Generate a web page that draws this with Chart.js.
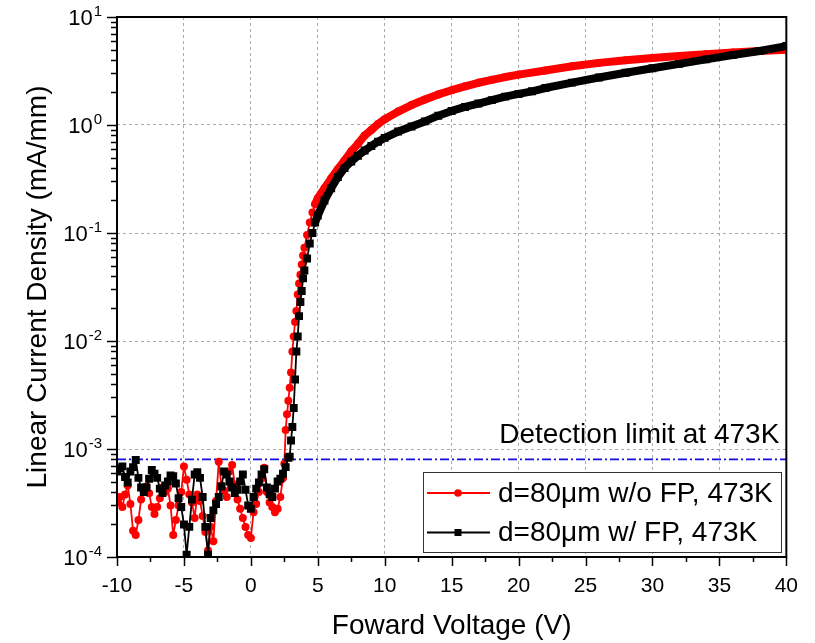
<!DOCTYPE html>
<html><head><meta charset="utf-8">
<script src="https://cdn.jsdelivr.net/npm/chart.js@4.4.1/dist/chart.umd.min.js"></script>
<style>html,body{margin:0;padding:0;background:#fff}#wrap{width:815px;height:643px}</style>
</head><body><div id="wrap"><canvas id="c" width="815" height="643"></canvas></div>
<script>
// ---------------- data ----------------
const xRange = [-10, 40];
const yRange = [1e-4, 10];
const xTickStep = 5;
const yDecadeExponents = [1, 0, -1, -2, -3, -4];
const seriesNames = ['d=80\u03bcm w/o FP, 473K', 'd=80\u03bcm w/ FP, 473K'];
const axisTitleX = 'Foward Voltage (V)';
const axisTitleY = 'Linear Current Density (mA/mm)';
const detectionLimit = 8e-4;
const detectionLabel = 'Detection limit at 473K';

// red series: without field plate
const voltageNoFP = [-10,-9.8,-9.6,-9.4,-9.2,-9,-8.8,-8.6,-8.4,-8.2,-8,-7.8,-7.6,-7.4,-7.2,-7,-6.8,-6.6,-6.4,-6.2,-6,-5.8,-5.6,-5.4,-5.2,-5,-4.8,-4.6,-4.4,-4.2,-4,-3.8,-3.6,-3.4,-3.2,-3,-2.8,-2.6,-2.4,-2.2,-2,-1.8,-1.6,-1.4,-1.2,-1,-0.8,-0.6,-0.4,-0.2,0,0.2,0.4,0.6,0.8,1,1.2,1.4,1.6,1.8,2,2.2,2.4,2.5,
  2.6,2.7,2.8,2.9,3.0,3.1,3.2,3.3,3.4,3.5,3.6,3.7,3.8,3.9,4.0,4.2,4.4,4.6,4.8,5.0,
  5.5,6,6.5,7,7.5,8,8.5,9,9.5,10,11,12,13,14,15,16,17,18,19,20,22,24,26,28,30,32,34,36,38,40];
const currentNoFP = [3.2e-4,3.6e-4,2.9e-4,3.8e-4,4.6e-4,3.1e-4,1.75e-4,1.6e-4,2.2e-4,3.4e-4,4.1e-4,4.5e-4,3.9e-4,2.9e-4,2.5e-4,2.9e-4,3.5e-4,4.4e-4,4.0e-4,4.3e-4,3.0e-4,1.6e-4,2.2e-4,3.0e-4,4.0e-4,6.9e-4,5.2e-4,3.8e-4,3.2e-4,2.3e-4,3.8e-4,3.3e-4,2.4e-4,1.7e-4,1.15e-4,1.9e-4,1.4e-4,3.3e-4,7.6e-4,4.6e-4,4.1e-4,3.6e-4,6.2e-4,7.1e-4,4.7e-4,3.4e-4,2.8e-4,2.3e-4,1.9e-4,1.6e-4,1.5e-4,2.6e-4,3.1e-4,4.0e-4,5.3e-4,6.7e-4,4.0e-4,3.2e-4,2.9e-4,2.6e-4,2.8e-4,3.6e-4,5.4e-4,7.3e-4,
  1.5e-3,2.1e-3,2.8e-3,3.7e-3,5.1e-3,8.0e-3,0.011,0.015,0.019,0.027,0.034,0.041,0.051,0.062,0.073,0.096,0.125,0.155,0.185,0.21,
  0.26,0.32,0.39,0.47,0.57,0.67,0.80,0.90,1.02,1.13,1.33,1.53,1.72,1.92,2.10,2.28,2.46,2.62,2.78,2.93,3.20,3.50,3.76,3.98,4.17,4.36,4.52,4.70,4.84,4.97];

// black series: with field plate
const voltageFP = [-10,-9.8,-9.6,-9.4,-9.2,-9,-8.8,-8.6,-8.4,-8.2,-8,-7.8,-7.6,-7.4,-7.2,-7,-6.8,-6.6,-6.4,-6.2,-6,-5.8,-5.6,-5.4,-5.2,-5,-4.8,-4.6,-4.4,-4.2,-4,-3.8,-3.6,-3.4,-3.2,-3,-2.8,-2.6,-2.4,-2.2,-2,-1.8,-1.6,-1.4,-1.2,-1,-0.8,-0.6,-0.4,-0.2,0,0.2,0.4,0.6,0.8,1,1.2,1.4,1.6,1.8,2,2.2,2.4,2.6,2.8,
  2.9,3.0,3.1,3.2,3.3,3.4,3.5,3.6,3.7,3.8,3.9,4.0,4.2,4.4,4.6,4.8,5.0,
  5.5,6,6.5,7,7.5,8,8.5,9,9.5,10,11,12,13,14,15,16,17,18,19,20,21,22,24,26,28,30,32,34,36,38,40];
const currentFP = [6.2e-4,6.6e-4,6.9e-4,5.5e-4,4.9e-4,6.2e-4,6.8e-4,7.9e-4,5.4e-4,4.4e-4,4.0e-4,4.4e-4,5.3e-4,6.4e-4,5.9e-4,5.4e-4,4.3e-4,3.9e-4,4.6e-4,5.0e-4,5.7e-4,5.6e-4,4.8e-4,3.5e-4,2.9e-4,2.0e-4,1.05e-4,1.9e-4,3.4e-4,5.8e-4,6.1e-4,5.4e-4,3.6e-4,1.9e-4,1.05e-4,2.3e-4,2.7e-4,3.1e-4,3.6e-4,4.5e-4,6.2e-4,5.8e-4,5.0e-4,4.4e-4,3.9e-4,4.2e-4,5.0e-4,5.8e-4,4.2e-4,3.0e-4,2.8e-4,3.6e-4,4.3e-4,4.9e-4,5.8e-4,6.5e-4,4.4e-4,3.8e-4,3.6e-4,4.3e-4,5.0e-4,5.3e-4,5.9e-4,6.8e-4,8.3e-4,
  8.5e-4,1.2e-3,1.6e-3,2.4e-3,4.4e-3,8.0e-3,0.011,0.017,0.023,0.029,0.038,0.045,0.058,0.080,0.100,0.125,0.145,
  0.20,0.26,0.33,0.40,0.46,0.52,0.58,0.64,0.70,0.76,0.87,0.97,1.08,1.22,1.35,1.47,1.58,1.70,1.83,1.94,2.05,2.20,2.47,2.75,3.05,3.35,3.68,4.05,4.45,4.85,5.38];

// ---------------- chart ----------------
const FONT = "'Liberation Sans', Arial, Helvetica, sans-serif";
Chart.defaults.font.family = FONT;
Chart.defaults.color = '#000';

const toPoints = (xs, ys) => xs.map((v, i) => ({x: v, y: ys[i]}));
const thickFrom = 4.8;
const segWidth = c => (c.p0.parsed.x >= thickFrom ? 8 : 1.8);
const isDecade = v => Math.abs(Math.log10(v) - Math.round(Math.log10(v))) < 1e-9;

const decor = {
  id: 'decor',
  afterDraw(chart) {
    const {ctx, chartArea: a, scales: {x, y}} = chart;
    ctx.save();
    ctx.strokeStyle = '#000';
    ctx.lineWidth = 1.5;
    // x ticks (major + minor), outward
    for (let v = xRange[0]; v <= xRange[1] + 1e-9; v += xTickStep / 2) {
      const px = Math.round(x.getPixelForValue(v)) + 0.5;
      const major = Math.abs(v / xTickStep - Math.round(v / xTickStep)) < 1e-9;
      ctx.beginPath(); ctx.moveTo(px, a.bottom); ctx.lineTo(px, a.bottom + (major ? 9 : 5)); ctx.stroke();
    }
    // y ticks (major decades + minor), outward
    for (let e = -4; e <= 1; e++) {
      for (let m = 1; m <= 9; m++) {
        const v = m * Math.pow(10, e);
        if (v > yRange[1] * 1.0001) break;
        const py = Math.round(y.getPixelForValue(v)) + 0.5;
        ctx.beginPath(); ctx.moveTo(a.left, py); ctx.lineTo(a.left - (m === 1 ? 10 : 6), py); ctx.stroke();
      }
    }
    // frame
    ctx.lineWidth = 2;
    ctx.strokeRect(a.left, a.top, a.right - a.left, a.bottom - a.top);
    // y tick labels 10^n
    ctx.fillStyle = '#000';
    ctx.textBaseline = 'alphabetic';
    ctx.textAlign = 'left';
    yDecadeExponents.forEach(e => {
      const py = y.getPixelForValue(Math.pow(10, e));
      const base = '10', sup = String(e);
      ctx.font = '22px ' + FONT;
      const wb = ctx.measureText(base).width;
      ctx.font = '15px ' + FONT;
      const ws = ctx.measureText(sup).width;
      const x0 = a.left - 16 - wb - ws;
      ctx.font = '22px ' + FONT;
      ctx.fillText(base, x0, py + 8);
      ctx.font = '15px ' + FONT;
      ctx.fillText(sup, x0 + wb + 1, py - 1);
    });
    // detection label
    const pyDet = y.getPixelForValue(detectionLimit);
    ctx.font = '28px ' + FONT;
    ctx.textAlign = 'right';
    ctx.fillText(detectionLabel, a.right - 7, pyDet - 16);
    // legend
    const lx = a.left + 306, ly = a.bottom - 85, lw = 358, lh = 80;
    ctx.fillStyle = '#fff';
    ctx.fillRect(lx, ly, lw, lh);
    ctx.strokeStyle = '#333';
    ctx.lineWidth = 1;
    ctx.strokeRect(lx + 0.5, ly + 0.5, lw, lh);
    const rows = [
      {name: seriesNames[0], color: '#ff0000', style: 'circle'},
      {name: seriesNames[1], color: '#000000', style: 'rect'}
    ];
    rows.forEach((r, i) => {
      const ry = ly + 21 + i * 39.5;
      ctx.strokeStyle = r.color; ctx.fillStyle = r.color; ctx.lineWidth = 2;
      ctx.beginPath(); ctx.moveTo(lx + 4, ry); ctx.lineTo(lx + 67, ry); ctx.stroke();
      const mx = lx + 35;
      if (r.style === 'circle') { ctx.beginPath(); ctx.arc(mx, ry, 3.8, 0, Math.PI * 2); ctx.fill(); }
      else { ctx.fillRect(mx - 3.5, ry - 3.5, 7, 7); }
      ctx.fillStyle = '#000';
      ctx.font = '28px ' + FONT;
      ctx.textAlign = 'left';
      ctx.textBaseline = 'middle';
      ctx.fillText(r.name, lx + 75, ry + 1);
    });
    ctx.restore();
  }
};

new Chart(document.getElementById('c'), {
  type: 'line',
  data: {
    datasets: [
      {label: seriesNames[1], data: toPoints(voltageFP, currentFP), borderColor: '#000', backgroundColor: '#000',
       pointStyle: 'rect', pointRadius: 5.6, pointBorderWidth: 0, borderWidth: 1.8, borderJoinStyle: 'round', borderCapStyle: 'round',
       segment: {borderWidth: segWidth}, order: 0},
      {label: seriesNames[0], data: toPoints(voltageNoFP, currentNoFP), borderColor: '#ff0000', backgroundColor: '#ff0000',
       pointStyle: 'circle', pointRadius: 4, pointBorderWidth: 0, borderWidth: 1.8, borderJoinStyle: 'round', borderCapStyle: 'round',
       segment: {borderWidth: segWidth}, order: 1},
      {label: detectionLabel, data: [{x: xRange[0], y: detectionLimit}, {x: xRange[1], y: detectionLimit}],
       borderColor: '#1010e0', borderWidth: 1.8, borderDash: [9, 3, 2, 3], pointRadius: 0, order: 2}
    ]
  },
  options: {
    responsive: false,
    animation: false,
    devicePixelRatio: 1,
    layout: {padding: {top: 17, right: 25, bottom: 0, left: 0}},
    plugins: {legend: {display: false}, tooltip: {enabled: false}},
    scales: {
      x: {
        type: 'linear', min: xRange[0], max: xRange[1],
        afterFit: s => { s.height = 86; },
        ticks: {stepSize: xTickStep, font: {size: 21}, color: '#000', padding: 17, maxRotation: 0, autoSkip: false},
        grid: {color: '#aaaaaa', lineWidth: 1, drawTicks: false},
        border: {display: false, dash: [3, 3]},
        title: {display: true, text: axisTitleX, font: {size: 28}, color: '#000', padding: {top: 0, bottom: 0}}
      },
      y: {
        type: 'logarithmic', min: yRange[0], max: yRange[1],
        afterFit: s => { s.width = 117; },
        ticks: {display: false},
        grid: {color: c => (c.tick && isDecade(c.tick.value) ? '#aaaaaa' : 'rgba(0,0,0,0)'), lineWidth: 1, drawTicks: false},
        border: {display: false, dash: [3, 3]},
        title: {display: true, text: axisTitleY, font: {size: 28}, color: '#000', padding: {top: 21, bottom: 0}}
      }
    }
  },
  plugins: [decor]
});
</script>
</body></html>
